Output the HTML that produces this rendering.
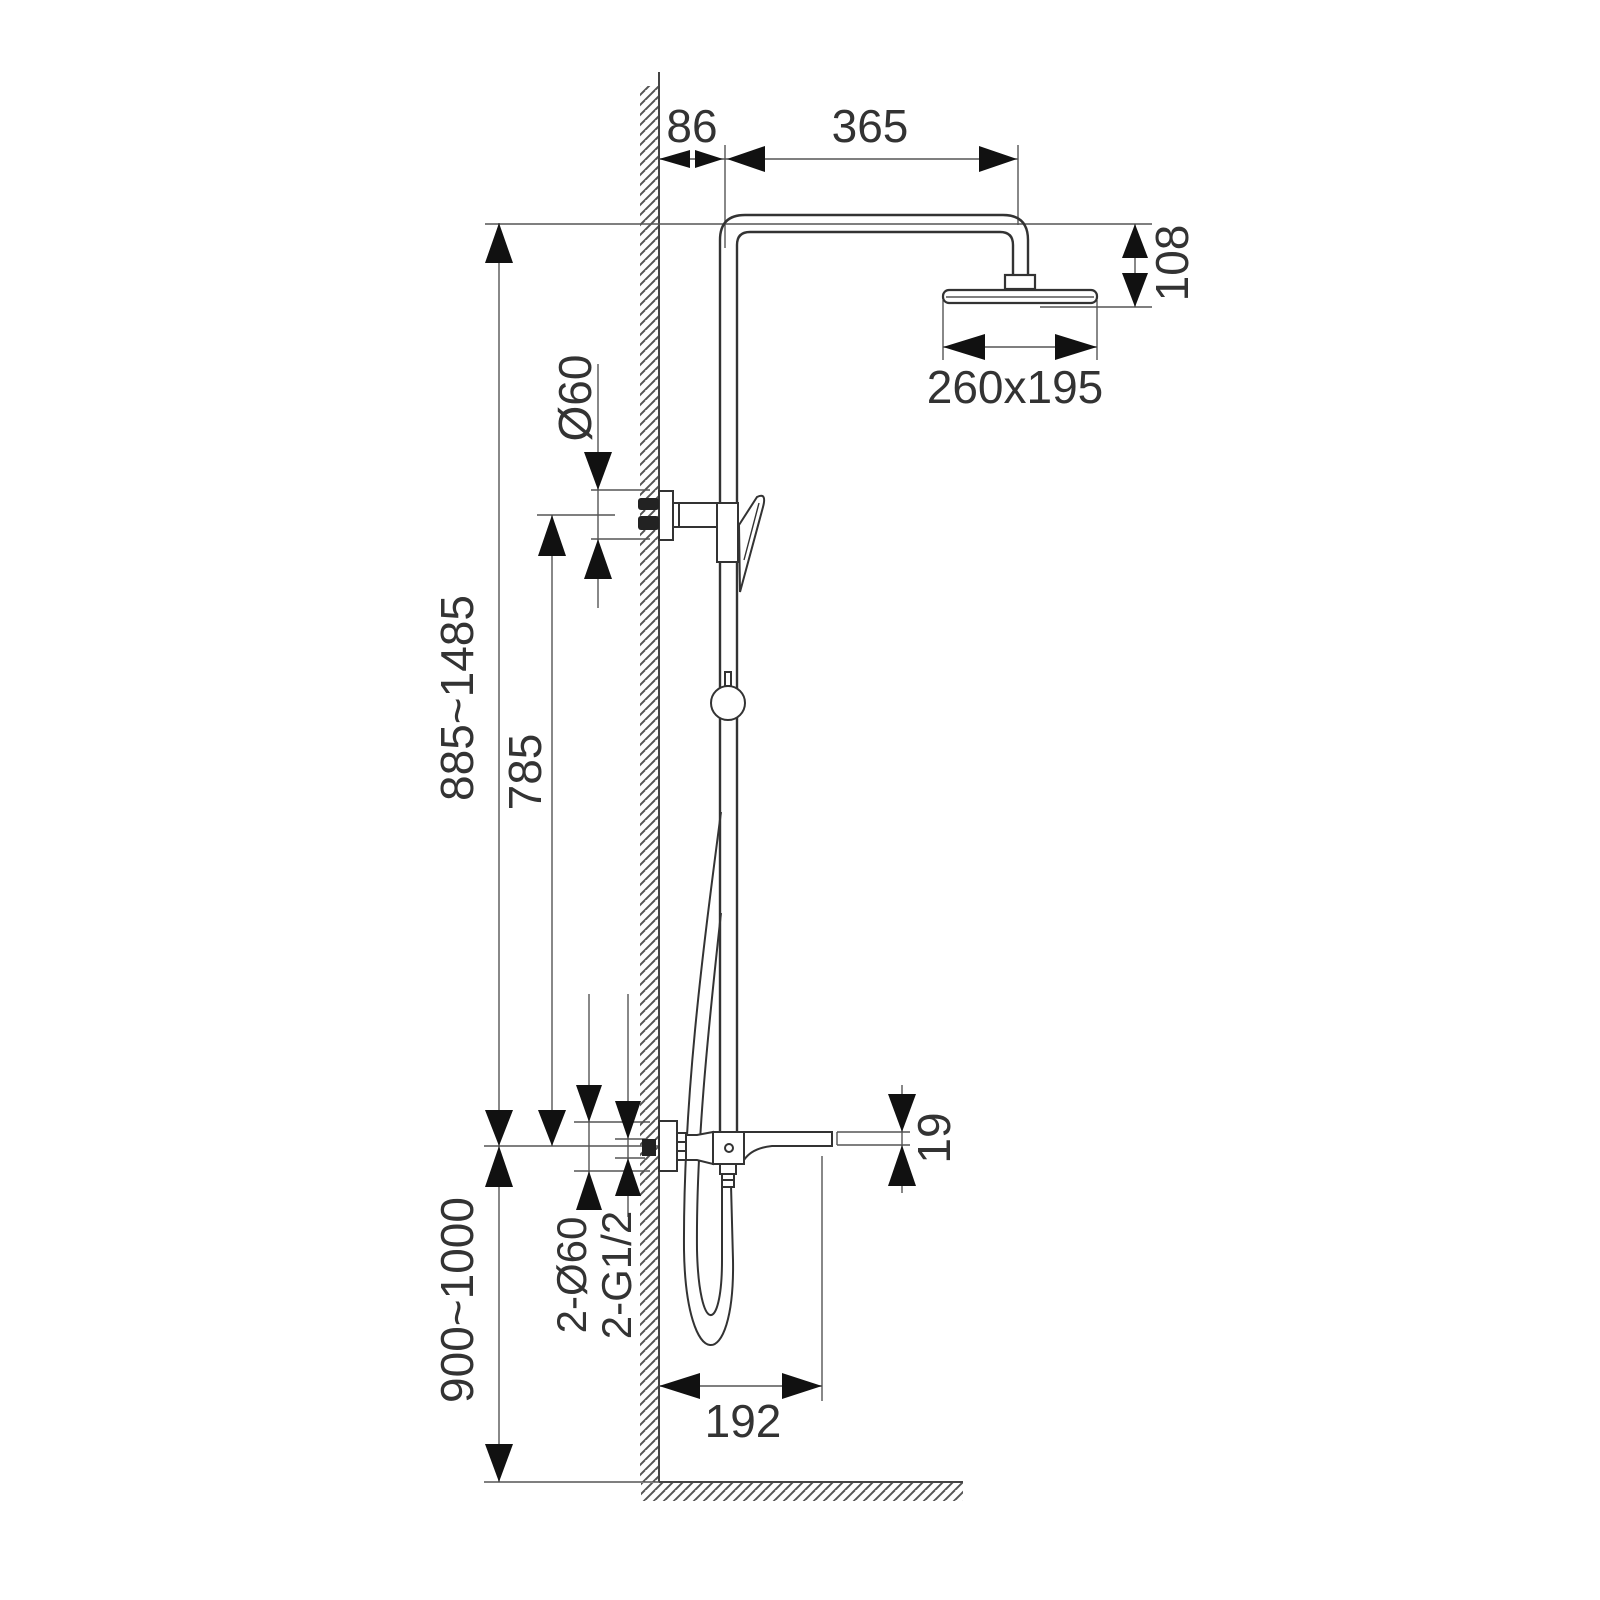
<!DOCTYPE html>
<html><head><meta charset="utf-8"><style>
html,body{margin:0;padding:0;background:#fff;}
svg{display:block;}
text{font-family:"Liberation Sans",sans-serif;fill:#333;}
</style></head><body>
<svg width="1600" height="1600" viewBox="0 0 1600 1600" xmlns="http://www.w3.org/2000/svg">
<defs>
<pattern id="h" width="10" height="10" patternUnits="userSpaceOnUse">
<line x1="0" y1="15" x2="15" y2="0" stroke="#555" stroke-width="2"/>
<line x1="-10" y1="15" x2="5" y2="0" stroke="#555" stroke-width="2"/>
</pattern>
</defs>
<rect width="1600" height="1600" fill="#fff"/>
<rect x="640" y="86" width="19" height="1396" fill="url(#h)"/>
<rect x="641" y="1483" width="322" height="18" fill="url(#h)"/>
<g stroke="#444" stroke-width="2" fill="none">
<line x1="659" y1="72" x2="659" y2="1482"/>
<line x1="659" y1="1482" x2="963" y2="1482"/>
</g>
<g stroke="#555" stroke-width="1.4" fill="none">
<line x1="485" y1="224" x2="1152" y2="224"/>
<line x1="484" y1="1146" x2="659" y2="1146"/>
<line x1="484" y1="1482" x2="659" y2="1482"/>
<line x1="659" y1="159" x2="1018" y2="159"/>
<line x1="725" y1="145" x2="725" y2="248"/>
<line x1="1018" y1="145" x2="1018" y2="225"/>
<line x1="1040" y1="307" x2="1152" y2="307"/>
<line x1="1135" y1="224" x2="1135" y2="307"/>
<line x1="943" y1="300" x2="943" y2="360"/>
<line x1="1097" y1="300" x2="1097" y2="360"/>
<line x1="943" y1="347" x2="1097" y2="347"/>
<line x1="499" y1="223" x2="499" y2="1482"/>
<line x1="552" y1="515" x2="552" y2="1146"/>
<line x1="537" y1="515" x2="615" y2="515"/>
<line x1="598" y1="364" x2="598" y2="608"/>
<line x1="591" y1="490" x2="650" y2="490"/>
<line x1="591" y1="539" x2="650" y2="539"/>
<line x1="589" y1="994" x2="589" y2="1210"/>
<line x1="628" y1="994" x2="628" y2="1217"/>
<line x1="574" y1="1122" x2="650" y2="1122"/>
<line x1="574" y1="1171" x2="650" y2="1171"/>
<line x1="615" y1="1139" x2="645" y2="1139"/>
<line x1="615" y1="1158" x2="645" y2="1158"/>
<line x1="902" y1="1085" x2="902" y2="1193"/>
<line x1="837" y1="1132" x2="910" y2="1132"/>
<line x1="837" y1="1145" x2="910" y2="1145"/>
<line x1="822" y1="1156" x2="822" y2="1401"/>
<line x1="659" y1="1386" x2="822" y2="1386"/>
</g>
<g fill="#111">
<polygon points="659,159 690,150 690,168"/>
<polygon points="723,159 695,150 695,168"/>
<polygon points="727,159 765,146 765,172"/>
<polygon points="1017,159 979,146 979,172"/>
<polygon points="943,347 985,334 985,360"/>
<polygon points="1097,347 1055,334 1055,360"/>
<polygon points="1135,224 1122,258 1148,258"/>
<polygon points="1135,307 1122,273 1148,273"/>
<polygon points="499,223 485,263 513,263"/>
<polygon points="499,1146 485,1110 513,1110"/>
<polygon points="499,1146 485,1187 513,1187"/>
<polygon points="499,1482 485,1444 513,1444"/>
<polygon points="552,515 538,556 566,556"/>
<polygon points="552,1146 538,1110 566,1110"/>
<polygon points="598,490 584,452 612,452"/>
<polygon points="598,539 584,579 612,579"/>
<polygon points="589,1122 576,1085 602,1085"/>
<polygon points="589,1171 576,1210 602,1210"/>
<polygon points="628,1139 615,1101 641,1101"/>
<polygon points="628,1158 615,1196 641,1196"/>
<polygon points="902,1132 888,1094 916,1094"/>
<polygon points="902,1145 888,1186 916,1186"/>
<polygon points="659,1386 700,1373 700,1399"/>
<polygon points="822,1386 782,1373 782,1399"/>
</g>
<g stroke="#333" stroke-width="2.4" fill="none">
<path d="M720,1132 L720,240 Q720,215 745,215 L1003,215 Q1028,215 1028,240 L1028,275"/>
<path d="M737,1132 L737,245 Q737,232 750,232 L1000,232 Q1013,232 1013,245 L1013,275"/>
</g>
<g stroke="#333" stroke-width="2.2" fill="#fff">
<rect x="1005" y="275" width="30" height="14"/>
<rect x="943" y="290" width="154" height="13" rx="6"/>
</g>
<line x1="946" y1="297" x2="1094" y2="297" stroke="#555" stroke-width="1.4"/>
<g stroke="#333" stroke-width="2" fill="none">
<path d="M721,812 C703,950 683,1100 684,1250 C686,1375 735,1375 733,1260 L731,1185"/>
<path d="M721,913 C707,1040 696,1150 697,1250 C699,1335 722,1335 722,1260 L722,1185"/>
</g>
<g stroke="#333" stroke-width="2" fill="#fff">
<rect x="725" y="672" width="6" height="14"/>
<circle cx="728" cy="703" r="17"/>
<rect x="659" y="491" width="14" height="49"/>
<rect x="673" y="503" width="44" height="24"/>
<line x1="679" y1="503" x2="679" y2="527"/>
<rect x="717" y="503" width="21" height="59"/>
<path d="M739,525 L757,497 Q767,492 763,507 L740,592 Z"/>
<line x1="744" y1="560" x2="759" y2="503" stroke-width="1.4"/>
</g>
<g fill="#222">
<rect x="638" y="498" width="21" height="12" rx="3"/>
<rect x="638" y="516" width="21" height="14" rx="3"/>
</g>
<g stroke="#333" stroke-width="2" fill="#fff">
<rect x="659" y="1121" width="18" height="50"/>
<rect x="677" y="1133" width="9" height="27"/>
<line x1="677" y1="1142" x2="686" y2="1142"/>
<line x1="677" y1="1151" x2="686" y2="1151"/>
<path d="M686,1135 L697,1135 L713,1132 L713,1164 L697,1160 L686,1160 Z"/>
<path d="M744,1132 L832,1132 L832,1146 L772,1146 Q752,1148 744,1160 Z"/>
<rect x="713" y="1132" width="31" height="32"/>
<circle cx="729" cy="1148" r="4"/>
<rect x="720" y="1164" width="16" height="10"/>
<rect x="722" y="1174" width="12" height="13"/>
<line x1="722" y1="1180" x2="734" y2="1180"/>
</g>
<rect x="642" y="1139" width="14" height="17" fill="#222"/>
<line x1="837" y1="1132" x2="837" y2="1145" stroke="#555" stroke-width="1.4"/>
<g font-size="46">
<text x="692" y="142" text-anchor="middle">86</text>
<text x="870" y="142" text-anchor="middle">365</text>
<text x="1015" y="403" text-anchor="middle">260x195</text>
<text x="743" y="1437" text-anchor="middle">192</text>
<text transform="translate(1188,263) rotate(-90)" text-anchor="middle">108</text>
<text transform="translate(591,398) rotate(-90)" text-anchor="middle">Ø60</text>
<text transform="translate(473,698) rotate(-90)" text-anchor="middle">885~1485</text>
<text transform="translate(541,772) rotate(-90)" text-anchor="middle">785</text>
<text transform="translate(473,1300) rotate(-90)" text-anchor="middle">900~1000</text>
<text transform="translate(950,1138) rotate(-90)" text-anchor="middle">19</text>
</g>
<g font-size="42">
<text transform="translate(586,1275) rotate(-90)" text-anchor="middle">2-Ø60</text>
<text transform="translate(631,1275) rotate(-90)" text-anchor="middle">2-G1/2</text>
</g>
</svg>
</body></html>
